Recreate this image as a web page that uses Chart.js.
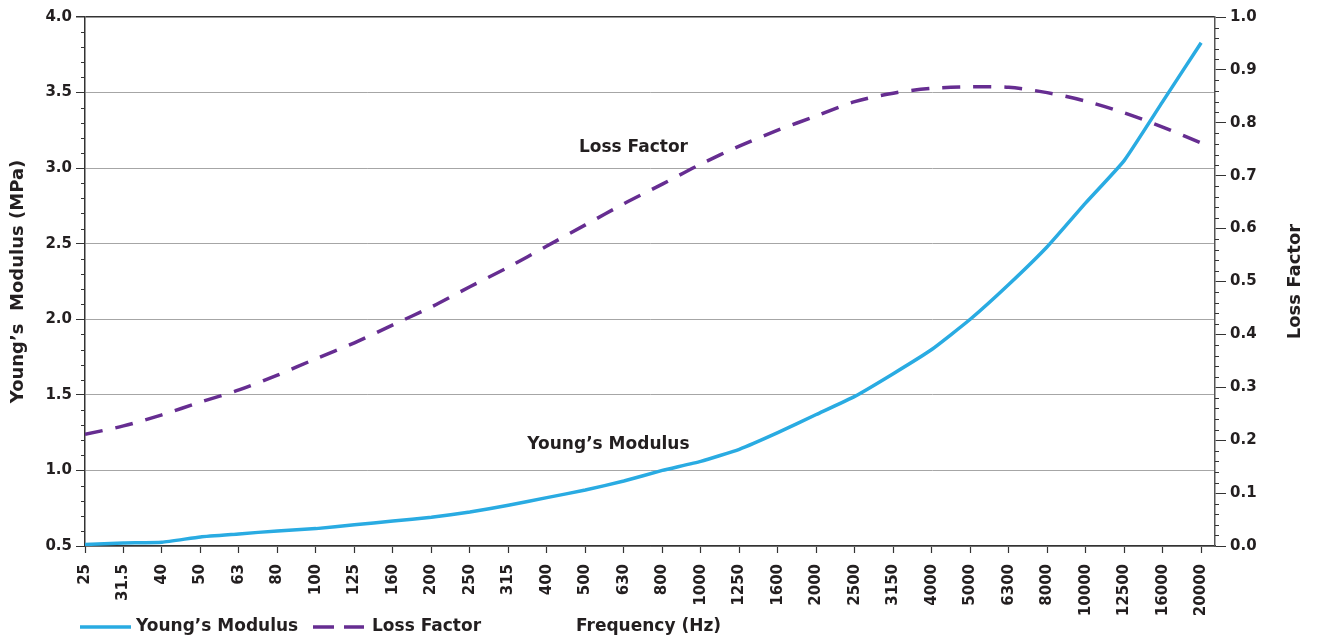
<!DOCTYPE html>
<html>
<head>
<meta charset="utf-8">
<script src="https://cdn.jsdelivr.net/npm/chart.js@4.4.1/dist/chart.umd.min.js"></script>
<style>
  html, body { margin: 0; padding: 0; background: #fff; }
  #wrap { width: 1318px; height: 639px; }
</style>
</head>
<body>
<div id="wrap"><canvas id="chart"></canvas></div>
<script>
'use strict';

const frequencies = ['25', '31.5', '40', '50', '63', '80', '100', '125', '160', '200',
  '250', '315', '400', '500', '630', '800', '1000', '1250', '1600', '2000',
  '2500', '3150', '4000', '5000', '6300', '8000', '10000', '12500', '16000', '20000'];

const youngsModulus = [0.51, 0.52, 0.525, 0.56, 0.58, 0.60, 0.615, 0.64, 0.665, 0.69,
  0.725, 0.77, 0.82, 0.87, 0.93, 1.0, 1.06, 1.14, 1.25, 1.37,
  1.49, 1.64, 1.80, 2.0, 2.23, 2.48, 2.77, 3.05, 3.44, 3.83];

const lossFactor = [0.211, 0.227, 0.248, 0.272, 0.295, 0.323, 0.354, 0.384, 0.418, 0.452,
  0.490, 0.527, 0.567, 0.607, 0.647, 0.684, 0.722, 0.756, 0.786, 0.813,
  0.840, 0.856, 0.865, 0.868, 0.867, 0.857, 0.841, 0.819, 0.792, 0.762];

const BLUE = '#29abe2';
const PURPLE = '#662d91';
const TEXT = '#231f20';
const FONT = '"DejaVu Sans", sans-serif';

function toPoints(arr) {
  return arr.map(function (v, i) { return { x: i, y: v }; });
}

// minor ticks, titles, inline labels and legend
const extras = {
  id: 'extras',
  afterDraw(chart) {
    const c = chart.ctx;
    const area = chart.chartArea;
    const xs = chart.scales.x;
    const y = chart.scales.y;
    const y1 = chart.scales.y1;

    c.save();
    c.strokeStyle = '#333';
    c.lineWidth = 1.2;
    c.beginPath();
    for (let v = 6; v < 40; v++) {
      if (v % 5 === 0) continue;
      const py = Math.round(y.getPixelForValue(v / 10)) + 0.5;
      c.moveTo(area.left - 4, py);
      c.lineTo(area.left, py);
    }
    for (let v = 1; v < 50; v++) {
      if (v % 5 === 0) continue;
      const py = Math.round(y1.getPixelForValue(v / 50)) + 0.5;
      c.moveTo(area.right, py);
      c.lineTo(area.right + 4, py);
    }
    c.stroke();

    c.fillStyle = TEXT;
    c.font = 'bold 18px ' + FONT;
    c.textAlign = 'center';
    c.textBaseline = 'middle';
    c.save();
    c.translate(1295, (area.top + area.bottom) / 2);
    c.rotate(-Math.PI / 2);
    c.fillText('Loss Factor', 0, 0);
    c.restore();

    c.font = 'bold 17px ' + FONT;
    c.fillText('Loss Factor', xs.getPixelForValue(14.25), y1.getPixelForValue(0.754));
    c.fillText('Young\u2019s Modulus', xs.getPixelForValue(13.6), y.getPixelForValue(1.17));

    // legend row
    const ly = 627;
    const ds = chart.data.datasets;
    c.lineWidth = 3.5;
    c.strokeStyle = ds[0].borderColor;
    c.setLineDash([]);
    c.beginPath();
    c.moveTo(80, ly);
    c.lineTo(131, ly);
    c.stroke();
    c.strokeStyle = ds[1].borderColor;
    c.setLineDash([21, 10]);
    c.beginPath();
    c.moveTo(313, ly);
    c.lineTo(364, ly);
    c.stroke();
    c.setLineDash([]);
    c.textAlign = 'left';
    c.fillText(ds[0].label, 136, ly);
    c.fillText(ds[1].label, 372, ly);
    c.fillText('Frequency (Hz)', 576, ly);
    c.restore();
  }
};

const ctx = document.getElementById('chart');

new Chart(ctx, {
  type: 'line',
  data: {
    datasets: [
      {
        label: 'Young\u2019s Modulus',
        data: toPoints(youngsModulus),
        yAxisID: 'y',
        borderColor: BLUE,
        borderWidth: 3.5,
        pointRadius: 0,
        tension: 0.15
      },
      {
        label: 'Loss Factor',
        data: toPoints(lossFactor),
        yAxisID: 'y1',
        borderColor: PURPLE,
        borderWidth: 3.5,
        borderDash: [18, 13],
        pointRadius: 0,
        tension: 0.3
      }
    ]
  },
  options: {
    responsive: true,
    maintainAspectRatio: false,
    animation: false,
    layout: { padding: { top: 17, bottom: 20 } },
    plugins: {
      legend: { display: false },
      tooltip: { enabled: false }
    },
    scales: {
      x: {
        type: 'linear',
        min: 0,
        max: 29.36,
        afterFit(scale) { scale.height = 73; },
        grid: { drawOnChartArea: false, tickLength: 7, tickColor: '#333', tickWidth: 1.2 },
        border: { color: '#333', width: 1.5 },
        ticks: {
          stepSize: 1,
          includeBounds: false,
          autoSkip: false,
          maxRotation: 90,
          minRotation: 90,
          padding: 11,
          color: TEXT,
          font: { family: FONT, size: 15, weight: 'bold' },
          callback: function (v) { return frequencies[v]; }
        }
      },
      y: {
        position: 'left',
        min: 0.5,
        max: 4.0,
        afterFit(scale) { scale.width = 85; },
        title: {
          display: true,
          text: 'Young\u2019s  Modulus (MPa)',
          color: TEXT,
          font: { family: FONT, size: 18, weight: 'bold' },
          padding: { top: 8, bottom: 4 }
        },
        grid: {
          color: function (c) { return c.tick && c.tick.value === 4 ? '#333' : '#a6a6a6'; },
          lineWidth: function (c) { return c.tick && c.tick.value === 4 ? 1.5 : 1; },
          tickLength: 9,
          tickColor: '#333'
        },
        border: { color: '#333', width: 1.5 },
        ticks: {
          stepSize: 0.5,
          padding: 4,
          color: TEXT,
          font: { family: FONT, size: 15, weight: 'bold' },
          callback: function (v) { return v.toFixed(1); }
        }
      },
      y1: {
        position: 'right',
        min: 0,
        max: 1.0,
        afterFit(scale) { scale.width = 103; },
        grid: { drawOnChartArea: false, tickLength: 11, tickColor: '#333' },
        border: { color: '#555', width: 1.5 },
        ticks: {
          stepSize: 0.1,
          padding: 4,
          color: TEXT,
          font: { family: FONT, size: 15, weight: 'bold' },
          callback: function (v) { return v.toFixed(1); }
        }
      }
    }
  },
  plugins: [extras]
});
</script>
</body>
</html>
